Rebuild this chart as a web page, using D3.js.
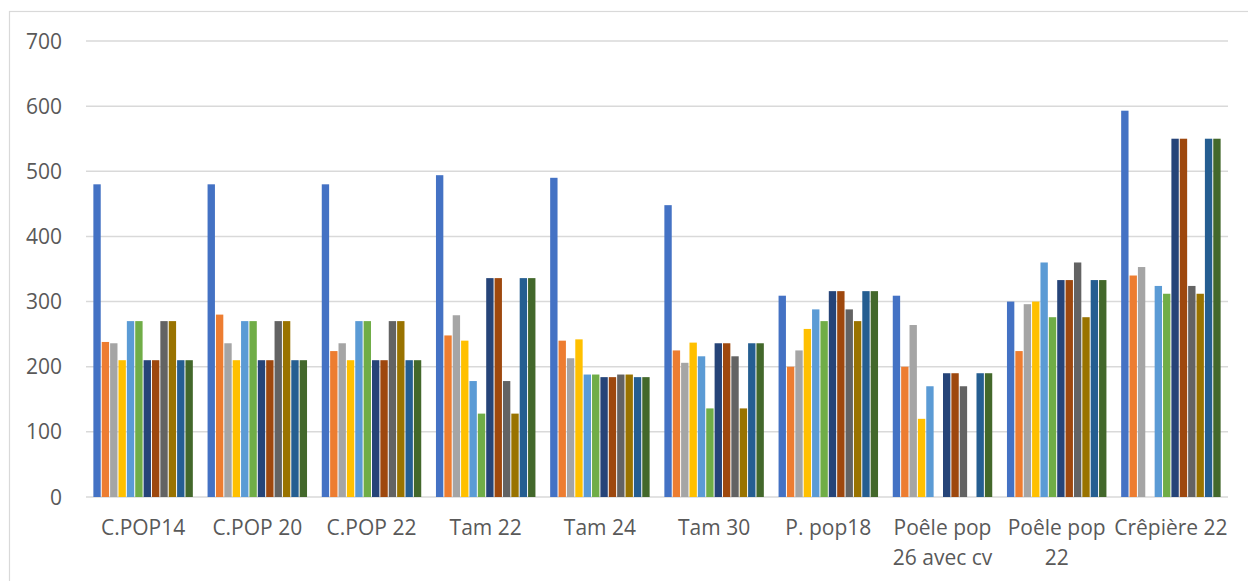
<!DOCTYPE html>
<html>
<head>
<meta charset="utf-8">
<script src="https://cdn.jsdelivr.net/npm/d3@7"></script>
<style>
  html, body { margin: 0; padding: 0; background: #fff; }
  svg { display: block; }
  text { font-family: "Open Sans", "Noto Sans", sans-serif; fill: #595959; }
</style>
</head>
<body>
<svg id="chart" width="1248" height="581"></svg>
<script>
// Categories (product / model), multi-line labels split on "\n"
const categories = [
  "C.POP14", "C.POP 20", "C.POP 22", "Tam 22", "Tam 24", "Tam 30",
  "P. pop18", "Poêle pop\n26 avec cv", "Poêle pop\n22", "Crêpière 22"
];

// Twelve series, one value per category (null = no bar)
const s1  = [480, 480, 480, 494, 490, 448, 309, 309, 300, 593];
const s2  = [238, 280, 224, 248, 240, 225, 200, 200, 224, 340];
const s3  = [236, 236, 236, 279, 213, 206, 225, 264, 296, 353];
const s4  = [210, 210, 210, 240, 242, 237, 258, 120, 300, null];
const s5  = [270, 270, 270, 178, 188, 216, 288, 170, 360, 324];
const s6  = [270, 270, 270, 128, 188, 136, 270, null, 276, 312];
const s7  = [210, 210, 210, 336, 184, 236, 316, 190, 333, 550];
const s8  = [210, 210, 210, 336, 184, 236, 316, 190, 333, 550];
const s9  = [270, 270, 270, 178, 188, 216, 288, 170, 360, 324];
const s10 = [270, 270, 270, 128, 188, 136, 270, null, 276, 312];
const s11 = [210, 210, 210, 336, 184, 236, 316, 190, 333, 550];
const s12 = [210, 210, 210, 336, 184, 236, 316, 190, 333, 550];

const series = [s1, s2, s3, s4, s5, s6, s7, s8, s9, s10, s11, s12];

// Value axis ticks
const yTicks = [0, 100, 200, 300, 400, 500, 600, 700];

const colors = [
  "#4472C4", "#ED7D31", "#A5A5A5", "#FFC000", "#5B9BD5", "#70AD47",
  "#264478", "#9E480E", "#636363", "#997300", "#255E91", "#43682B"
];

const svg = d3.select("#chart");

// Chart area frame
svg.append("rect")
  .attr("x", 9.5).attr("y", 11.5)
  .attr("width", 1260).attr("height", 620)
  .attr("fill", "none")
  .attr("stroke", "#d9d9d9")
  .attr("stroke-width", 1.2);

const plot = { left: 86, right: 1228, top: 41, bottom: 497 };

const y = d3.scaleLinear()
  .domain([0, 700])
  .range([plot.bottom, plot.top]);

const x0 = d3.scaleBand()
  .domain(categories)
  .range([plot.left, plot.right])
  .paddingInner(0.129)
  .paddingOuter(0.0645);

const x1 = d3.scaleBand()
  .domain(d3.range(series.length))
  .range([0, x0.bandwidth()])
  .paddingInner(0.12);

// Gridlines
svg.append("g")
  .selectAll("line")
  .data(yTicks)
  .join("line")
  .attr("x1", plot.left).attr("x2", plot.right)
  .attr("y1", d => y(d)).attr("y2", d => y(d))
  .attr("stroke", "#d9d9d9")
  .attr("stroke-width", 1.5);

// Y tick labels
svg.append("g")
  .selectAll("text")
  .data(yTicks)
  .join("text")
  .attr("x", 62)
  .attr("y", d => y(d) + 7.5)
  .attr("text-anchor", "end")
  .attr("font-size", 21)
  .text(d => d);

// Bars
const groups = svg.append("g")
  .selectAll("g")
  .data(categories)
  .join("g")
  .attr("transform", d => `translate(${x0(d)},0)`);

groups.selectAll("rect")
  .data((d, ci) => series.map((s, si) => ({ si, v: s[ci] })).filter(e => e.v != null))
  .join("rect")
  .attr("x", d => x1(d.si))
  .attr("width", x1.bandwidth())
  .attr("y", d => y(d.v))
  .attr("height", d => y(0) - y(d.v))
  .attr("fill", d => colors[d.si]);

// Category labels
const labels = svg.append("g")
  .selectAll("text")
  .data(categories)
  .join("text")
  .attr("x", d => x0(d) + x0.bandwidth() / 2)
  .attr("y", 535)
  .attr("text-anchor", "middle")
  .attr("font-size", 21);

labels.each(function(d) {
  const t = d3.select(this);
  const x = x0(d) + x0.bandwidth() / 2;
  d.split("\n").forEach((line, i) => {
    t.append("tspan")
      .attr("x", x)
      .attr("dy", i === 0 ? 0 : 30)
      .text(line);
  });
});
</script>
</body>
</html>
